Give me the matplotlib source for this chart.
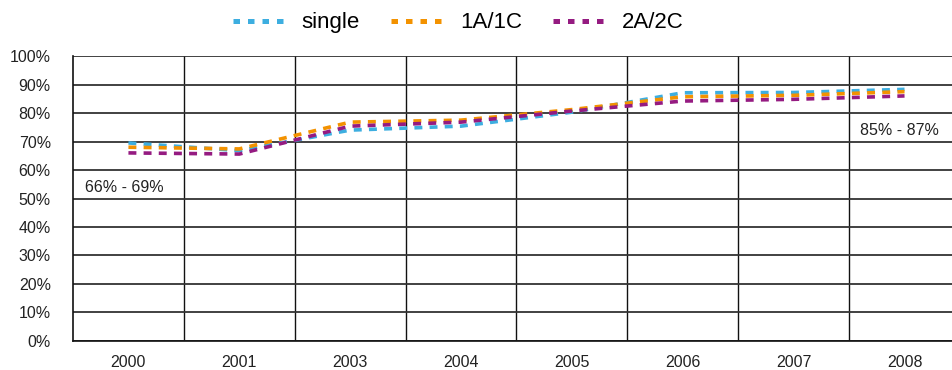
import matplotlib.pyplot as plt
from matplotlib.lines import Line2D
from matplotlib.ticker import FixedLocator

# Share of ... by household type, 2000-2008
years = ['2000', '2001', '2003', '2004', '2005', '2006', '2007', '2008']

single = [69.5, 66.8, 74.0, 75.4, 80.3, 87.1, 87.2, 88.3]
one_a_one_c = [68.0, 67.4, 76.8, 77.5, 81.2, 85.7, 86.2, 87.5]
two_a_two_c = [66.0, 65.6, 75.4, 76.8, 80.7, 84.2, 84.8, 86.0]

series_names = ['single', '1A/1C', '2A/2C']
colors = ['#3DAEE0', '#F39200', '#951B81']

plt.rcParams['font.family'] = ['Liberation Sans', 'DejaVu Sans']

fig = plt.figure(figsize=(9.53, 3.70), dpi=100)
ax = fig.add_axes([0.0766, 0.0784, 0.9307, 0.7702])

x = list(range(len(years)))
for vals, name, c in zip([single, one_a_one_c, two_a_two_c], series_names, colors):
    ax.plot(x, vals, color=c, lw=2.6, linestyle=(0, (2.2, 2.0)), label=name,
            dash_capstyle='butt', zorder=3)

ax.set_xlim(-0.5, len(years) - 0.5)
ax.set_ylim(0, 100)
ax.set_yticks(range(0, 101, 10))
ax.set_yticklabels([f'{v}%' for v in range(0, 101, 10)], fontsize=11.5, color='#222222')
ax.set_xticks(x)
ax.set_xticklabels(years, fontsize=11.5, color='#222222')
ax.xaxis.set_minor_locator(FixedLocator([i + 0.5 for i in range(len(years) - 1)]))

ax.tick_params(axis='x', which='both', length=0, pad=10)
ax.tick_params(axis='y', which='both', length=0, pad=16)

ax.grid(axis='y', which='major', color='#333333', lw=1.3)
ax.grid(axis='x', which='minor', color='#111111', lw=1.0)
ax.set_axisbelow(True)

for s in ['top', 'right']:
    ax.spines[s].set_visible(False)
for s in ['left', 'bottom']:
    ax.spines[s].set_color('#111111')
    ax.spines[s].set_linewidth(1.2)

ax.text(-0.39, 53.7, '66% - 69%', fontsize=11.5, color='#222222', va='center', ha='left')
ax.text(6.60, 74.0, '85% - 87%', fontsize=11.5, color='#222222', va='center', ha='left')

# legend with squarer dashes, like the reference
handles = [Line2D([], [], color=c, lw=3.6, linestyle=(0, (1.3, 1.6)), dash_capstyle='butt')
           for c in colors]
fig.legend(handles, series_names, loc='center', bbox_to_anchor=(0.481, 0.938), ncol=3,
           frameon=False, fontsize=16, handlelength=2.4, columnspacing=1.4,
           handletextpad=0.7)

fig.savefig('out.png', dpi=100)
